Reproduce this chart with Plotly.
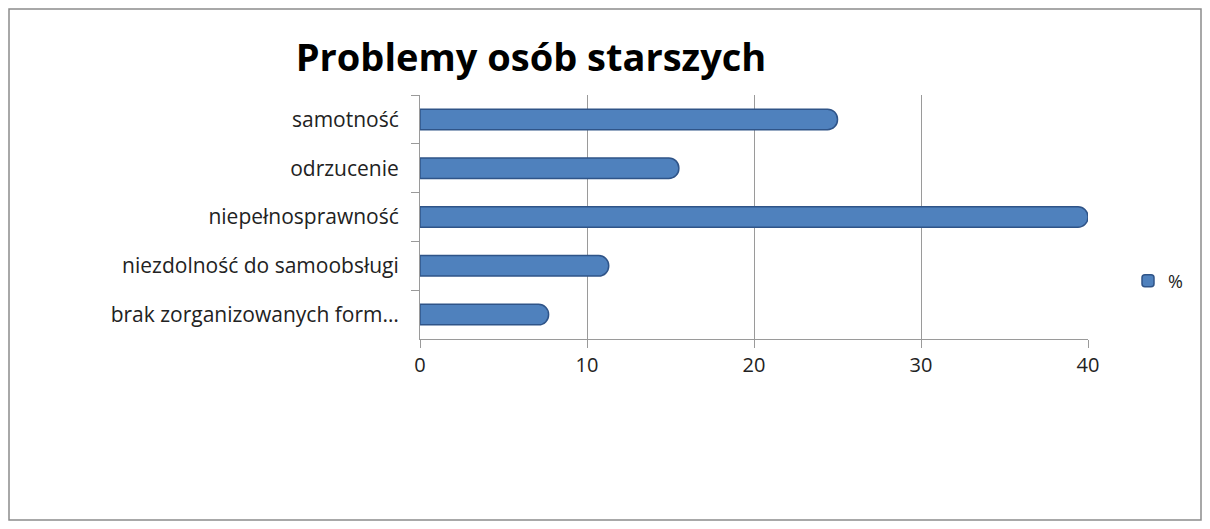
import plotly.graph_objects as go

categories = ["samotność", "odrzucenie", "niepełnosprawność",
              "niezdolność do samoobsługi", "brak zorganizowanych form…"]
values = [25, 15.5, 40, 11.3, 7.7]
series_name = "%"
x_ticks = [0, 10, 20, 30, 40]

# page body has an 8px margin, so figure pixel = reference pixel - 8
OFF = 8
W, H = 1194, 513
L, R, T, B = 420 - OFF, 114, 95 - OFF, 182
pw, ph = W - L - R, H - T - B

def px_x(p):
    return (p - OFF - L) / pw

def px_y(p):
    return (H - B - (p - OFF)) / ph

fig = go.Figure()
fig.add_trace(go.Bar(
    y=categories, x=values, orientation="h", name=series_name,
    marker=dict(color="#4F81BD", line=dict(color="#2F5488", width=1.5), cornerradius=10),
    width=0.42, showlegend=True,
))

fig.update_layout(
    width=W, height=H,
    margin=dict(l=L, r=R, t=T, b=B),
    paper_bgcolor="white", plot_bgcolor="white",
    font=dict(family="Open Sans", size=21, color="#222"),
    title=dict(text="<b>Problemy osób starszych</b>", x=px_x(531), xref="paper",
               xanchor="center", y=1 - (58 - OFF) / H, yanchor="middle",
               font=dict(family="Open Sans", size=38, color="black")),
    xaxis=dict(range=[0, 40], tickvals=x_ticks, showgrid=True, gridcolor="#9A9A9A",
               gridwidth=1.2, zeroline=False, showline=True, linecolor="#9A9A9A",
               ticks="outside", tickcolor="#9A9A9A", ticklen=8,
               tickfont=dict(size=20, color="#222")),
    yaxis=dict(autorange="reversed", showline=True, linecolor="#9A9A9A",
               ticks="outside", tickcolor="#9A9A9A", ticklen=8, showgrid=False,
               tickson="boundaries", ticklabelstandoff=16,
               tickfont=dict(size=21, color="#222")),
    legend=dict(x=px_x(1128), y=px_y(281), xanchor="left", yanchor="middle",
                itemwidth=30, font=dict(size=18, color="#222"),
                bgcolor="rgba(0,0,0,0)"),
    shapes=[dict(type="rect", xref="paper", yref="paper",
                 x0=px_x(9), x1=px_x(1201), y0=px_y(520), y1=px_y(9),
                 line=dict(color="#8C8C8C", width=1.5), layer="below")],
)

fig.write_html("out.html")
